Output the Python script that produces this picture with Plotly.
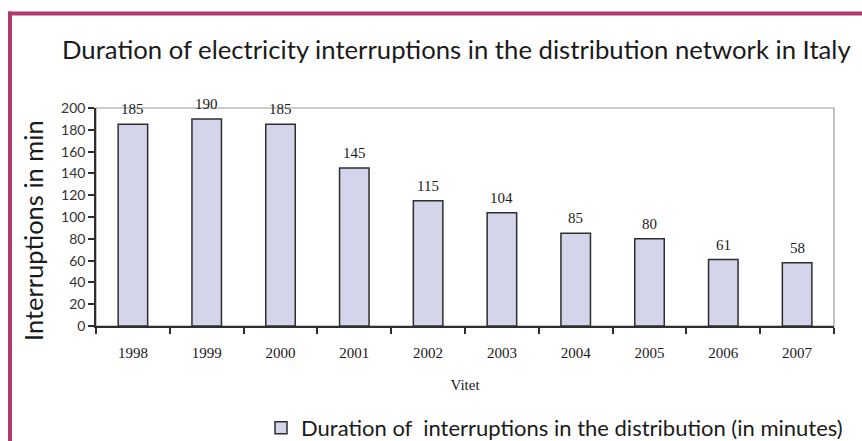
import plotly.graph_objects as go

years = ["1998", "1999", "2000", "2001", "2002", "2003", "2004", "2005", "2006", "2007"]
minutes = [185, 190, 185, 145, 115, 104, 85, 80, 61, 58]
y_ticks = [0, 20, 40, 60, 80, 100, 120, 140, 160, 180, 200]

W, H = 862, 441
L, R, T, B = 96, 28, 108, 115
PW, PH = W - L - R, H - T - B

def px_x(p):
    return (p - L) / PW

def px_y(p):
    return (H - B - p) / PH

SANS = "Lato, 'Open Sans', sans-serif"
SERIF = "'Liberation Serif', 'DejaVu Serif', serif"
BORDER = "#b03a6c"

fig = go.Figure()
fig.add_trace(go.Bar(
    x=years, y=minutes,
    name="Duration of  interruptions in the distribution (in minutes)",
    marker=dict(color="#d4d4ea", line=dict(color="#2e2e2e", width=1.5)),
    showlegend=True,
))

for i, v in enumerate(minutes):
    fig.add_annotation(x=i, y=v, text=str(v), showarrow=False, yanchor="bottom",
                       yshift=5, font=dict(family=SERIF, size=15, color="#1a1a1a"))

# y axis title placed as a rotated annotation
fig.add_annotation(text="Interruptions in min", xref="paper", yref="paper",
                   x=px_x(33), y=px_y(231), xanchor="center", yanchor="middle",
                   textangle=-90, showarrow=False,
                   font=dict(family=SANS, size=25.5, color="#1a1a1a"))

shapes = [
    dict(type="rect", xref="paper", yref="paper", x0=0, x1=1, y0=0, y1=1,
         line=dict(color="#9a9a9a", width=1.2), layer="below"),
    dict(type="line", xref="paper", yref="paper", x0=px_x(8), x1=px_x(W + 5),
         y0=px_y(13.5), y1=px_y(13.5), line=dict(color=BORDER, width=4)),
    dict(type="line", xref="paper", yref="paper", x0=px_x(10), x1=px_x(10),
         y0=px_y(11.5), y1=px_y(H + 5), line=dict(color=BORDER, width=4)),
]

fig.update_layout(
    width=W, height=H,
    margin=dict(l=L, r=R, t=T, b=B, autoexpand=False),
    paper_bgcolor="white", plot_bgcolor="white",
    bargap=0.6,
    shapes=shapes,
    title=dict(text="Duration of electricity interruptions in the distribution network in Italy",
               x=62 / W, xanchor="left", xref="container", y=1 - 50 / H, yanchor="middle",
               yref="container",
               font=dict(family=SANS, size=25.7, color="#1a1a1a")),
    showlegend=True,
    legend=dict(orientation="h", x=261 / W, xref="container", xanchor="left",
                y=1 - 428 / H, yref="container", yanchor="middle",
                font=dict(family=SANS, size=22, color="#1a1a1a"), bgcolor="rgba(0,0,0,0)"),
    xaxis=dict(
        type="category", showgrid=False, showline=True, linecolor="#2e2e2e", linewidth=1.5,
        ticks="outside", tickson="boundaries", ticklen=6, tickcolor="#2e2e2e", tickwidth=1.5,
        ticklabelstandoff=12,
        tickfont=dict(family=SERIF, size=15, color="#1a1a1a"),
        title=dict(text="Vitet", font=dict(family=SERIF, size=15, color="#1a1a1a"), standoff=20),
    ),
    yaxis=dict(
        range=[0, 200], tickvals=y_ticks, showgrid=False, zeroline=False,
        showline=True, linecolor="#2e2e2e", linewidth=1.5,
        ticks="outside", ticklen=6, tickcolor="#2e2e2e", tickwidth=1.5,
        tickfont=dict(family=SANS, size=14, color="#333333"),
    ),
)

fig.write_html("out.html")
